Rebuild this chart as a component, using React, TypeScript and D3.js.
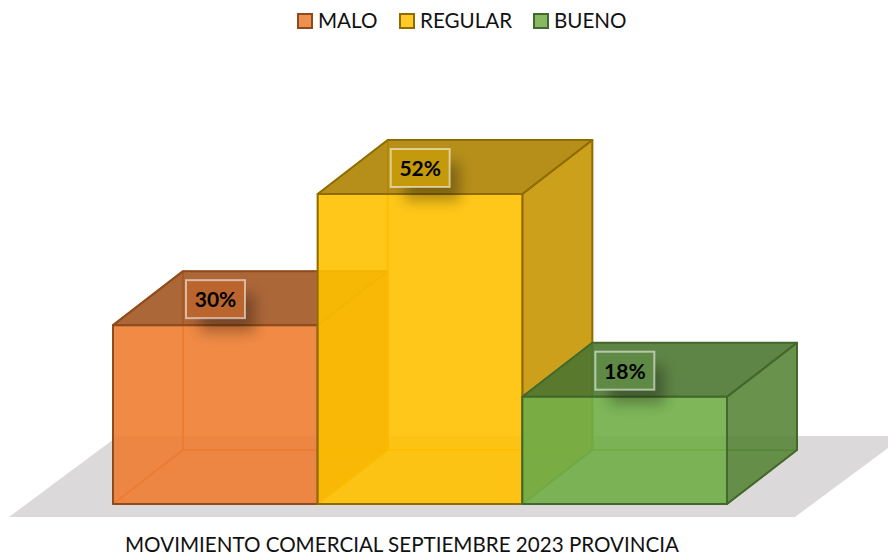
import React from "react";
import * as d3 from "d3";

const categories = ["MALO", "REGULAR", "BUENO"];
const values = [30, 52, 18];
const labels = ["30%", "52%", "18%"];
const fills = ["#ED7D31", "#FFC000", "#70AD47"];
const strokes = ["#8E4B1D", "#8F6C00", "#43682B"];
const labelFills = ["#B9652D", "#C49A0C", "#5F8A45"];
const legendX = [298, 400, 534];
const title = "MOVIMIENTO COMERCIAL SEPTIEMBRE 2023 PROVINCIA";

const W = 888, H = 555;
const DX = 70, DY = -54;
const x = d3.scaleBand<string>().domain(categories).range([113, 727]);
const y = d3.scaleLinear().domain([0, 52]).range([504, 194]);
const FONT = "Lato, 'Open Sans', sans-serif";

type P = [number, number];
const line = d3.line<P>().curve(d3.curveLinearClosed);
const shade = (c: string, k: number) => d3.rgb(c).darker(k).formatHex();

function Bar({ i }: { i: number }) {
  const x0 = x(categories[i])!;
  const x1 = x0 + x.bandwidth();
  const yb = y(0), yt = y(values[i]);
  const o = (p: P): P => [p[0] + DX, p[1] + DY];
  const fl: P = [x0, yb], fr: P = [x1, yb], tl: P = [x0, yt], tr: P = [x1, yt];
  const f = fills[i], s = strokes[i];
  const faces: { pts: P[]; fill: string; op: number }[] = [
    { pts: [fl, fr, o(fr), o(fl)], fill: f, op: 0.3 },
    { pts: [o(fl), o(fr), o(tr), o(tl)], fill: f, op: 0.3 },
    { pts: [fl, o(fl), o(tl), tl], fill: f, op: 0.3 },
    { pts: [fr, o(fr), o(tr), tr], fill: shade(f, 0.75), op: 0.85 },
    { pts: [tl, tr, o(tr), o(tl)], fill: shade(f, 1.15), op: 0.85 },
    { pts: [fl, fr, tr, tl], fill: f, op: 0.86 },
  ];
  return (
    <g>
      {faces.map((fc, k) => (
        <path key={k} d={line(fc.pts)!} fill={fc.fill} fillOpacity={fc.op}
          stroke={k < 3 ? shade(f, 0.3) : s} strokeOpacity={k < 3 ? 0.85 : 1} strokeWidth={k < 3 ? 1.5 : 2} strokeLinejoin="round" />
      ))}
    </g>
  );
}

function Label({ i }: { i: number }) {
  const x0 = x(categories[i])! + 73;
  const yTop = y(values[i]) - 45;
  const w = 59, h = 38;
  return (
    <g>
      <rect x={x0 + 14} y={yTop + 14} width={w - 4} height={h} fill="#000" opacity={0.3} filter="url(#blur)" />
      <rect x={x0} y={yTop} width={w} height={h} fill={labelFills[i]} stroke="#fff" strokeOpacity={0.55} strokeWidth={2} />
      <text x={x0 + w / 2} y={yTop + 27} textAnchor="middle" fontFamily={FONT} fontWeight={700} fontSize={21} fill="#000">{labels[i]}</text>
    </g>
  );
}

export default function App() {
  return (
    <svg width={W} height={H} viewBox={`0 0 ${W} ${H}`} style={{ position: "absolute", left: 0, top: 0, background: "#fff" }}>
      <defs>
        <filter id="blur" x="-50%" y="-50%" width="200%" height="200%"><feGaussianBlur stdDeviation="7" /></filter>
      </defs>
      {categories.map((c, i) => (
        <g key={c}>
          <rect x={legendX[i]} y={14} width={14} height={14} fill={fills[i]} fillOpacity={0.85} stroke={strokes[i]} strokeWidth={2} />
          <text x={legendX[i] + 20} y={28} fontFamily={FONT} fontSize={20.6} fill="#111">{c}</text>
        </g>
      ))}
      <path d={line([[9, 517], [795, 517], [888, 448], [888, 436], [118, 436]])!} fill="#DBD9DA" />
      {categories.map((c, i) => <Bar key={c} i={i} />)}
      {categories.map((c, i) => <Label key={c} i={i} />)}
      <text x={402} y={552} textAnchor="middle" fontFamily={FONT} fontSize={20.6} fill="#111">{title}</text>
    </svg>
  );
}
